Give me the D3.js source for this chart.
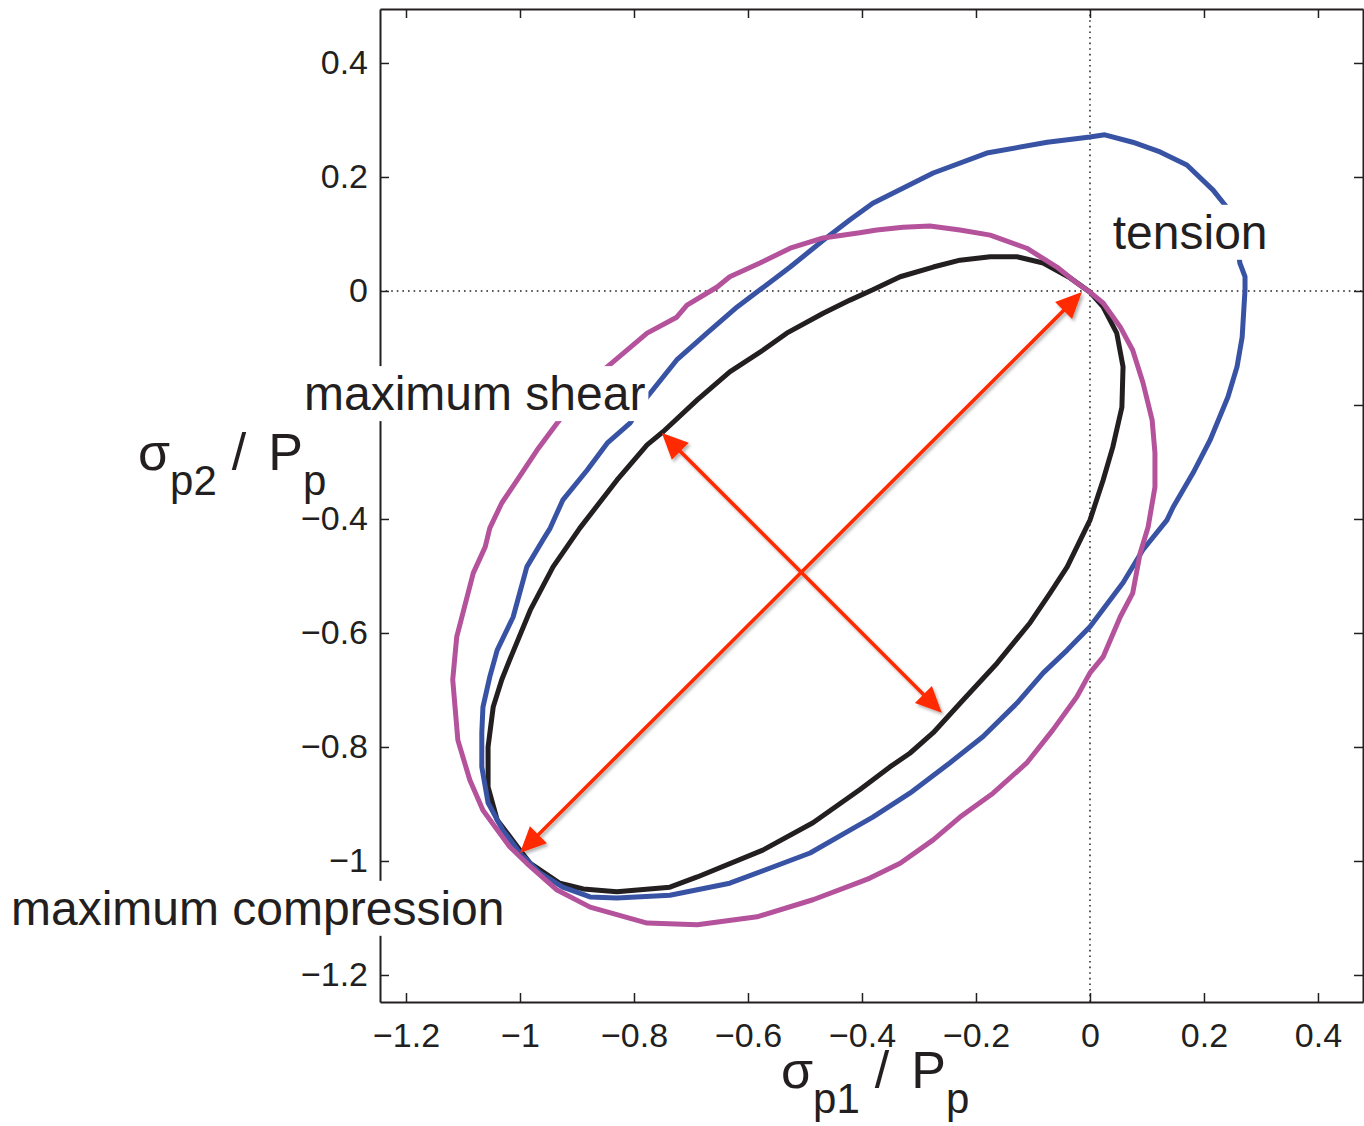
<!DOCTYPE html>
<html>
<head>
<meta charset="utf-8">
<script src="https://cdn.jsdelivr.net/npm/d3@7"></script>
<style>
  body { margin: 0; background: #fff; }
  text { font-family: "Liberation Sans", Arial, Helvetica, sans-serif; fill: #231f20; }
</style>
</head>
<body>
<div id="chart"></div>
<script>
// ---------- DATA ----------
const X_TICKS = [-1.2, -1, -0.8, -0.6, -0.4, -0.2, 0, 0.2, 0.4];
const X_TICK_LABELS = ["−1.2", "−1", "−0.8", "−0.6", "−0.4", "−0.2", "0", "0.2", "0.4"];
const Y_TICKS = [-1.2, -1, -0.8, -0.6, -0.4, -0.2, 0, 0.2, 0.4];
// the -0.2 label sits under the "maximum shear" box in the original
const Y_TICK_LABELS = ["−1.2", "−1", "−0.8", "−0.6", "−0.4", "", "0", "0.2", "0.4"];

// closed curves, [sigma_p1/Pp, sigma_p2/Pp]
const BLACK_CURVE = [
  [0.000, -0.002], [-0.035, 0.023], [-0.082, 0.049], [-0.128, 0.060], [-0.175, 0.060],
  [-0.228, 0.054], [-0.275, 0.042], [-0.333, 0.025], [-0.381, 0.002], [-0.421, -0.016],
  [-0.468, -0.039], [-0.532, -0.074], [-0.574, -0.104], [-0.632, -0.142], [-0.689, -0.191],
  [-0.749, -0.247], [-0.777, -0.270], [-0.830, -0.332], [-0.895, -0.416], [-0.942, -0.484],
  [-0.982, -0.560], [-1.018, -0.647], [-1.032, -0.682], [-1.047, -0.730], [-1.056, -0.800],
  [-1.056, -0.870], [-1.040, -0.928], [-1.000, -0.981], [-0.982, -1.004], [-0.930, -1.039],
  [-0.889, -1.049], [-0.830, -1.054], [-0.737, -1.046], [-0.689, -1.028], [-0.574, -0.981],
  [-0.486, -0.933], [-0.404, -0.875], [-0.351, -0.835], [-0.316, -0.811], [-0.275, -0.775],
  [-0.223, -0.718], [-0.163, -0.653], [-0.105, -0.582], [-0.070, -0.530], [-0.040, -0.484],
  [0.000, -0.402], [0.023, -0.332], [0.040, -0.274], [0.056, -0.204], [0.058, -0.133],
  [0.047, -0.074], [0.023, -0.028]
];

const BLUE_CURVE = [
  [0.272, 0.002], [0.272, 0.025], [0.263, 0.049], [0.256, 0.098], [0.240, 0.147],
  [0.216, 0.177], [0.170, 0.221], [0.123, 0.244], [0.075, 0.261], [0.026, 0.274],
  [0.000, 0.270], [-0.075, 0.261], [-0.181, 0.242], [-0.275, 0.207], [-0.381, 0.154],
  [-0.421, 0.125], [-0.468, 0.089], [-0.526, 0.042], [-0.579, 0.002], [-0.619, -0.028],
  [-0.672, -0.074], [-0.725, -0.121], [-0.777, -0.186], [-0.807, -0.232], [-0.847, -0.267],
  [-0.882, -0.314], [-0.925, -0.367], [-0.947, -0.416], [-0.960, -0.437], [-0.988, -0.484],
  [-1.012, -0.572], [-1.040, -0.630], [-1.053, -0.677], [-1.065, -0.730], [-1.067, -0.775],
  [-1.067, -0.835], [-1.056, -0.898], [-1.030, -0.946], [-1.000, -0.986], [-0.965, -1.021],
  [-0.925, -1.046], [-0.877, -1.063], [-0.830, -1.065], [-0.737, -1.060], [-0.632, -1.039],
  [-0.491, -0.986], [-0.421, -0.946], [-0.381, -0.923], [-0.316, -0.881], [-0.246, -0.828],
  [-0.188, -0.782], [-0.128, -0.723], [-0.082, -0.670], [-0.040, -0.630], [0.000, -0.589],
  [0.058, -0.512], [0.093, -0.454], [0.135, -0.402], [0.146, -0.379], [0.181, -0.319],
  [0.211, -0.261], [0.242, -0.186], [0.258, -0.133], [0.267, -0.081]
];

const MAGENTA_CURVE = [
  [0.000, -0.002], [-0.023, 0.014], [-0.058, 0.042], [-0.111, 0.075], [-0.175, 0.098],
  [-0.228, 0.107], [-0.281, 0.114], [-0.328, 0.112], [-0.374, 0.107], [-0.404, 0.102],
  [-0.468, 0.093], [-0.526, 0.075], [-0.579, 0.049], [-0.632, 0.025], [-0.654, 0.007],
  [-0.707, -0.025], [-0.725, -0.046], [-0.777, -0.074], [-0.847, -0.133], [-0.895, -0.182],
  [-0.935, -0.232], [-0.970, -0.279], [-1.005, -0.332], [-1.032, -0.372], [-1.053, -0.416],
  [-1.061, -0.449], [-1.082, -0.495], [-1.102, -0.572], [-1.111, -0.607], [-1.118, -0.682],
  [-1.109, -0.788], [-1.088, -0.858], [-1.065, -0.911], [-1.018, -0.975], [-0.988, -1.004],
  [-0.935, -1.051], [-0.877, -1.081], [-0.777, -1.109], [-0.689, -1.112], [-0.584, -1.098],
  [-0.486, -1.068], [-0.404, -1.037], [-0.386, -1.030], [-0.333, -1.004], [-0.275, -0.963],
  [-0.228, -0.923], [-0.170, -0.881], [-0.111, -0.828], [-0.065, -0.770], [-0.023, -0.712],
  [0.000, -0.670], [0.023, -0.642], [0.053, -0.572], [0.075, -0.530], [0.088, -0.460],
  [0.102, -0.414], [0.114, -0.344], [0.114, -0.284], [0.109, -0.226], [0.093, -0.161],
  [0.075, -0.104], [0.053, -0.063], [0.023, -0.021]
];

// double headed arrows: [start, end]
const ARROW_COMPRESSION = [[-1.000, -0.986], [-0.014, -0.002]];
const ARROW_SHEAR = [[-0.751, -0.249], [-0.260, -0.740]];

// ---------- SCAFFOLD ----------
const WIDTH = 1364, HEIGHT = 1126;
const INK = "#231f20";
const FONT = '"Liberation Sans", Arial, Helvetica, sans-serif';

const svg = d3.select("#chart").append("svg")
  .attr("width", WIDTH)
  .attr("height", HEIGHT);

const x = d3.scaleLinear().domain([-1.2456, 0.479]).range([380, 1363]);
const y = d3.scaleLinear().domain([-1.2474, 0.4947]).range([1002, 9]);

const [plotLeft, plotRight] = x.range();
const [plotBottom, plotTop] = y.range();

function styleAxis(sel) {
  sel.attr("font-size", null).attr("font-family", null);
  sel.select(".domain").attr("stroke", INK).attr("stroke-width", 2);
  sel.selectAll(".tick line").attr("stroke", INK).attr("stroke-width", 1.5);
  sel.selectAll(".tick text")
    .attr("fill", INK)
    .style("font-family", FONT)
    .style("font-size", "34px");
}

// ---------- AXES (MATLAB style box, ticks inside) ----------
svg.append("g")
  .attr("transform", `translate(0,${plotBottom})`)
  .call(d3.axisBottom(x).tickValues(X_TICKS).tickFormat((d, i) => X_TICK_LABELS[i])
    .tickSizeInner(-9).tickSizeOuter(0).tickPadding(21))
  .call(styleAxis);

svg.append("g")
  .attr("transform", `translate(0,${plotTop})`)
  .call(d3.axisTop(x).tickValues(X_TICKS).tickFormat("")
    .tickSizeInner(-9).tickSizeOuter(0))
  .call(styleAxis);

svg.append("g")
  .attr("transform", `translate(${plotLeft},0)`)
  .call(d3.axisLeft(y).tickValues(Y_TICKS).tickFormat((d, i) => Y_TICK_LABELS[i])
    .tickSizeInner(-9).tickSizeOuter(0).tickPadding(12))
  .call(styleAxis);

svg.append("g")
  .attr("transform", `translate(${plotRight},0)`)
  .call(d3.axisRight(y).tickValues(Y_TICKS).tickFormat("")
    .tickSizeInner(-9).tickSizeOuter(0))
  .call(styleAxis);

// dotted zero lines
svg.append("line")
  .attr("x1", x(0)).attr("x2", x(0)).attr("y1", plotTop).attr("y2", plotBottom)
  .attr("stroke", INK).attr("stroke-width", 1.5).attr("stroke-dasharray", "1.6,4");
svg.append("line")
  .attr("x1", plotLeft).attr("x2", plotRight).attr("y1", y(0)).attr("y2", y(0))
  .attr("stroke", INK).attr("stroke-width", 1.5).attr("stroke-dasharray", "1.6,4");

// ---------- CURVES ----------
const line = d3.line()
  .x(d => x(d[0]))
  .y(d => y(d[1]))
  .curve(d3.curveLinearClosed);

const curves = [
  { pts: BLACK_CURVE, color: "#231f20" },
  { pts: BLUE_CURVE, color: "#3953a4" },
  { pts: MAGENTA_CURVE, color: "#b5529c" }
];

svg.append("g")
  .selectAll("path")
  .data(curves)
  .join("path")
  .attr("d", d => line(d.pts))
  .attr("fill", "none")
  .attr("stroke", d => d.color)
  .attr("stroke-width", 5)
  .attr("stroke-linejoin", "round");

// ---------- ARROWS ----------
const defs = svg.append("defs");
defs.append("filter")
  .attr("id", "shadow")
  .attr("x", "-20%").attr("y", "-20%").attr("width", "140%").attr("height", "140%")
  .append("feDropShadow")
  .attr("dx", 2).attr("dy", 2.5).attr("stdDeviation", 1.6)
  .attr("flood-color", "#000").attr("flood-opacity", 0.3);

const RED = "#ff2a00";
const HEAD_LEN = 26, HEAD_HALF = 12;
const arrowG = svg.append("g").attr("filter", "url(#shadow)");

function head(tip, ux, uy) {
  // triangle pointing along (ux, uy) with its point at tip
  const bx = tip[0] - ux * HEAD_LEN, by = tip[1] - uy * HEAD_LEN;
  const px = -uy * HEAD_HALF, py = ux * HEAD_HALF;
  return `M${tip[0]},${tip[1]}L${bx + px},${by + py}L${bx - px},${by - py}Z`;
}

[ARROW_COMPRESSION, ARROW_SHEAR].forEach(a => {
  const p0 = [x(a[0][0]), y(a[0][1])];
  const p1 = [x(a[1][0]), y(a[1][1])];
  const len = Math.hypot(p1[0] - p0[0], p1[1] - p0[1]);
  const ux = (p1[0] - p0[0]) / len, uy = (p1[1] - p0[1]) / len;
  arrowG.append("line")
    .attr("x1", p0[0] + ux * (HEAD_LEN - 3)).attr("y1", p0[1] + uy * (HEAD_LEN - 3))
    .attr("x2", p1[0] - ux * (HEAD_LEN - 3)).attr("y2", p1[1] - uy * (HEAD_LEN - 3))
    .attr("stroke", RED).attr("stroke-width", 3.6);
  arrowG.append("path").attr("d", head(p1, ux, uy)).attr("fill", RED);
  arrowG.append("path").attr("d", head(p0, -ux, -uy)).attr("fill", RED);
});

// ---------- ANNOTATIONS (white boxed text) ----------
function boxedLabel(text, xv, yv) {
  const g = svg.append("g");
  const t = g.append("text")
    .attr("x", x(xv))
    .attr("y", y(yv))
    .style("font-size", "48px")
    .text(text);
  const b = t.node().getBBox();
  g.insert("rect", "text")
    .attr("x", b.x - 3).attr("y", b.y - 1)
    .attr("width", b.width + 6).attr("height", b.height + 2)
    .attr("fill", "#fff");
}

boxedLabel("tension", 0.040, 0.074);
boxedLabel("maximum shear", -1.379, -0.209);
boxedLabel("maximum compression", -1.893, -1.112);

// ---------- AXIS LABELS ----------
function axisLabel(px, py, sub) {
  const t = svg.append("text").attr("x", px).attr("y", py).style("font-size", "52px");
  t.append("tspan").text("σ");
  t.append("tspan").attr("dy", 25).style("font-size", "42px").text(sub);
  t.append("tspan").attr("dy", -25).attr("dx", 15).text("/");
  t.append("tspan").attr("dx", 22).text("P");
  t.append("tspan").attr("dy", 25).style("font-size", "42px").text("p");
}

axisLabel(138, 470, "p2");
axisLabel(781, 1088, "p1");
</script>
</body>
</html>
